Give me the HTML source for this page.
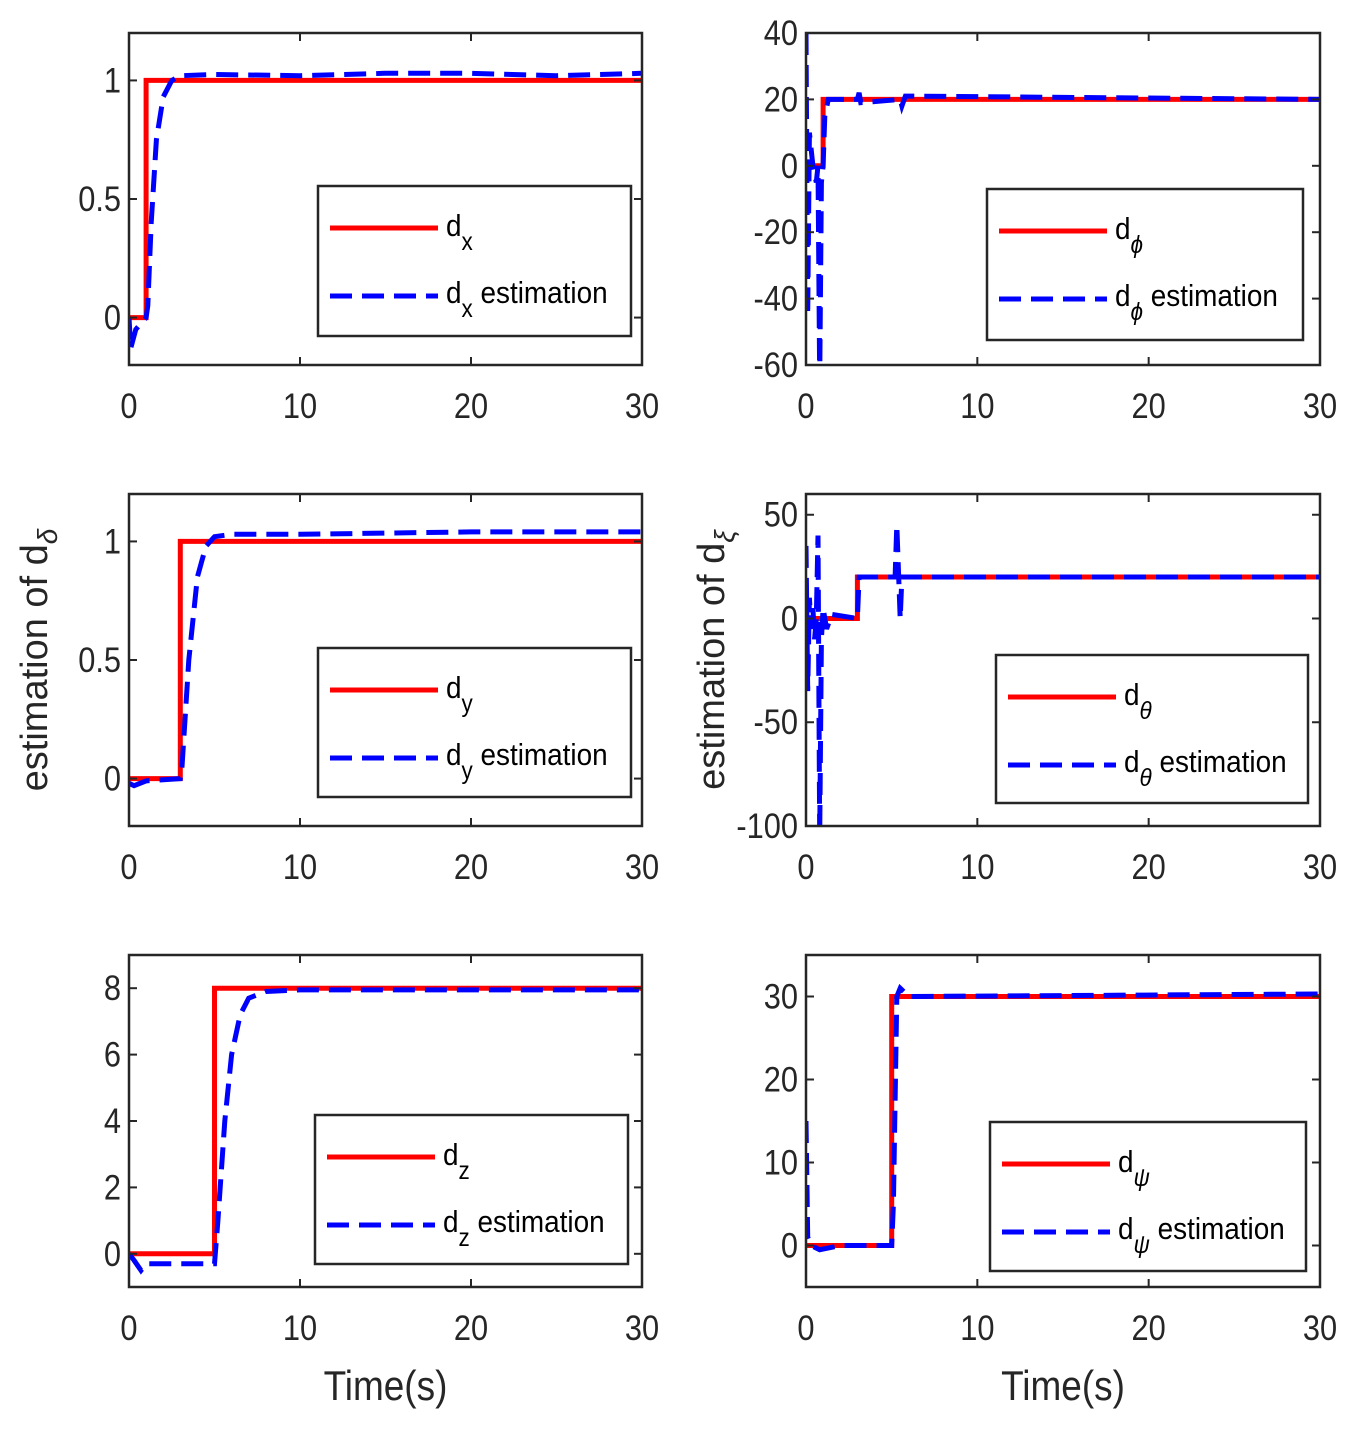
<!DOCTYPE html>
<html><head><meta charset="utf-8"><style>
body{margin:0;background:#fff}
svg{display:block;font-family:"Liberation Sans Narrow","Liberation Sans",sans-serif}
</style></head><body>
<svg id="fig" width="1359" height="1432" viewBox="0 0 1359 1432"></svg>
<script>
// ---- data ----
const redT1=[0,1,1,30], redV1=[0,0,1,1];
const bluT1=[0,0.1,0.4,1.0,1.1,1.3,1.6,2,2.5,3,5,10,15,20,25,30];
const bluV1=[0,-0.13,-0.05,0,0.05,0.4,0.75,0.93,1.0,1.02,1.025,1.02,1.03,1.03,1.02,1.03];
const redT2=[0,1,1,30], redV2=[0,0,20,20];
const bluT2=[0,0.1,0.2,0.4,0.6,0.7,0.8,0.9,1.0,1.1,1.3,3,3.1,3.2,5.5,5.6,5.8,30];
const bluV2=[40,-45,10,0,-5,0,-65,-5,0,15,20,20,22,19,20,18,21,20];
const redT3=[0,3,3,30], redV3=[0,0,1,1];
const bluT3=[0,0.3,1,3,3.1,3.5,4,4.5,5,6,10,20,30];
const bluV3=[-0.02,-0.03,-0.01,0,0.05,0.5,0.85,0.98,1.02,1.03,1.03,1.04,1.04];
const redT4=[0,3,3,30], redV4=[0,0,20,20];
const bluT4=[0,0.1,0.2,0.3,0.4,0.5,0.6,0.7,0.8,0.9,1,1.2,1.5,3,3.1,5.2,5.3,5.5,5.6,30];
const bluV4=[35,-35,10,-5,5,-10,0,40,-105,-10,5,-5,2,0,20,20,45,0,20,20];
const redT5=[0,5,5,30], redV5=[0,0,8,8];
const bluT5=[0,0.3,0.7,1,5,5.2,5.6,6,6.5,7,8,10,30];
const bluV5=[0,-0.2,-0.5,-0.3,-0.3,1,4,6,7.2,7.7,7.9,7.95,7.95];
const redT6=[0,5,5,30], redV6=[0,0,30,30];
const bluT6=[0,0.1,0.3,0.8,2,5,5.1,5.3,5.5,6,30];
const bluV6=[15,1,0,-0.5,0,0,5,30,31,30,30.3];
const xTicks=[0,10,20,30];
const yTicks1=[0,0.5,1], yTicks2=[-60,-40,-20,0,20,40], yTicks4=[-100,-50,0,50], yTicks5=[0,2,4,6,8], yTicks6=[0,10,20,30];
const subs=['x','ϕ','y','θ','z','ψ'];

const NS='http://www.w3.org/2000/svg', svg=document.getElementById('fig');
function mk(tag,attrs,parent){const e=document.createElementNS(NS,tag);for(const k in attrs)e.setAttribute(k,attrs[k]);(parent||svg).appendChild(e);return e;}
const panels=[
 {x0:129,x1:642,y0:33,y1:365,ylim:[-0.2,1.2],yt:yTicks1,rt:redT1,rv:redV1,bt:bluT1,bv:bluV1,lg:[318,186,313,150]},
 {x0:806,x1:1320,y0:33,y1:365,ylim:[-60,40],yt:yTicks2,rt:redT2,rv:redV2,bt:bluT2,bv:bluV2,lg:[987,189,316,151]},
 {x0:129,x1:642,y0:494,y1:826,ylim:[-0.2,1.2],yt:yTicks1,rt:redT3,rv:redV3,bt:bluT3,bv:bluV3,lg:[318,648,313,149],yl:'δ'},
 {x0:806,x1:1320,y0:494,y1:826,ylim:[-100,60],yt:yTicks4,rt:redT4,rv:redV4,bt:bluT4,bv:bluV4,lg:[996,655,312,148],yl:'ξ'},
 {x0:129,x1:642,y0:955,y1:1287,ylim:[-1,9],yt:yTicks5,rt:redT5,rv:redV5,bt:bluT5,bv:bluV5,lg:[315,1115,313,149],xl:1},
 {x0:806,x1:1320,y0:955,y1:1287,ylim:[-5,35],yt:yTicks6,rt:redT6,rv:redV6,bt:bluT6,bv:bluV6,lg:[990,1122,316,149],xl:1}
];
panels.forEach((p,i)=>{
 const g=mk('g',{});
 
 
 const sx=t=>p.x0+(t/30)*(p.x1-p.x0);
 const sy=v=>p.y1-(v-p.ylim[0])/(p.ylim[1]-p.ylim[0])*(p.y1-p.y0);
 const cid='c'+i;
 const cp=mk('clipPath',{id:cid},g);mk('rect',{x:p.x0,y:p.y0,width:p.x1-p.x0,height:p.y1-p.y0},cp);
 const pts=(T,V)=>T.map((t,k)=>sx(t).toFixed(1)+','+sy(V[k]).toFixed(1)).join(' ');
 const r=mk('polyline',{points:pts(p.rt,p.rv),fill:'none',stroke:'#ff0000','stroke-width':5,'clip-path':`url(#${cid})`},g);
 
 
 const b=mk('polyline',{points:pts(p.bt,p.bv),fill:'none',stroke:'#0000ff','stroke-width':5,'stroke-dasharray':'22,10','clip-path':`url(#${cid})`},g);
 
 
 mk('rect',{x:p.x0,y:p.y0,width:p.x1-p.x0,height:p.y1-p.y0,fill:'none',stroke:'#262626','stroke-width':2.5},g);
 xTicks.forEach(t=>{const x=sx(t);
  mk('line',{x1:x,x2:x,y1:p.y1,y2:p.y1-8,stroke:'#262626','stroke-width':2},g);
  mk('line',{x1:x,x2:x,y1:p.y0,y2:p.y0+8,stroke:'#262626','stroke-width':2},g);
  const tx=mk('text',{x:x,y:p.y1+53,'font-size':35,'text-anchor':'middle',fill:'#262626',transform:`translate(${x*0.12} 0) scale(0.88 1)`},g);tx.textContent=t;
  
  });
 p.yt.forEach(v=>{const y=sy(v);
  mk('line',{x1:p.x0,x2:p.x0+8,y1:y,y2:y,stroke:'#262626','stroke-width':2},g);
  mk('line',{x1:p.x1,x2:p.x1-8,y1:y,y2:y,stroke:'#262626','stroke-width':2},g);
  const ax=p.x0-8;
  const tx=mk('text',{x:ax,y:y+12,'font-size':35,'text-anchor':'end',fill:'#262626',transform:`translate(${ax*0.12} 0) scale(0.88 1)`},g);tx.textContent=v;
  
  });
 const [lx,ly,lw,lh]=p.lg;
 const lgG=mk('g',{},g);
 
 
 mk('rect',{x:lx,y:ly,width:lw,height:lh,fill:'#fff',stroke:'#262626','stroke-width':2.5},lgG);
 mk('line',{x1:lx+12,x2:lx+120,y1:ly+42,y2:ly+42,stroke:'#ff0000','stroke-width':5},lgG);
 mk('line',{x1:lx+12,x2:lx+120,y1:ly+110,y2:ly+110,stroke:'#0000ff','stroke-width':5,'stroke-dasharray':'22,10'},lgG);
 const sub=subs[i], it=(sub.charCodeAt(0)>200)?'italic':'normal';
 const tx0=lx+128;
 const t1=mk('text',{x:tx0,y:ly+50,'font-size':31,fill:'#000',transform:`translate(${tx0*0.1} 0) scale(0.9 1)`},lgG);
 t1.innerHTML=`d<tspan dy="14" font-size="25" font-style="${it}">${sub}</tspan>`;
 
 
 const t2=mk('text',{x:tx0,y:ly+117,'font-size':31,fill:'#000',transform:`translate(${tx0*0.1} 0) scale(0.9 1)`},lgG);
 t2.innerHTML=`d<tspan dy="14" font-size="25" font-style="${it}">${sub}</tspan><tspan dy="-14"> estimation</tspan>`;
 
 
 if(p.yl){const cx=p.x0-94,cy=(p.y0+p.y1)/2;
  const yl=mk('text',{x:cx,y:cy+12,'font-size':38,'text-anchor':'middle',transform:`rotate(-90 ${cx} ${cy})`,fill:'#262626'},g);
  yl.innerHTML=`estimation of d<tspan dy="10" font-size="28" font-style="italic">${p.yl}</tspan>`;
  
  }
 if(p.xl){const cx=(p.x0+p.x1)/2;
  const xl=mk('text',{x:cx,y:1400,'font-size':42,'text-anchor':'middle',fill:'#262626',transform:`translate(${cx*0.12} 0) scale(0.88 1)`},g);
  xl.textContent='Time(s)';
  
  }
});
</script>
</body></html>
